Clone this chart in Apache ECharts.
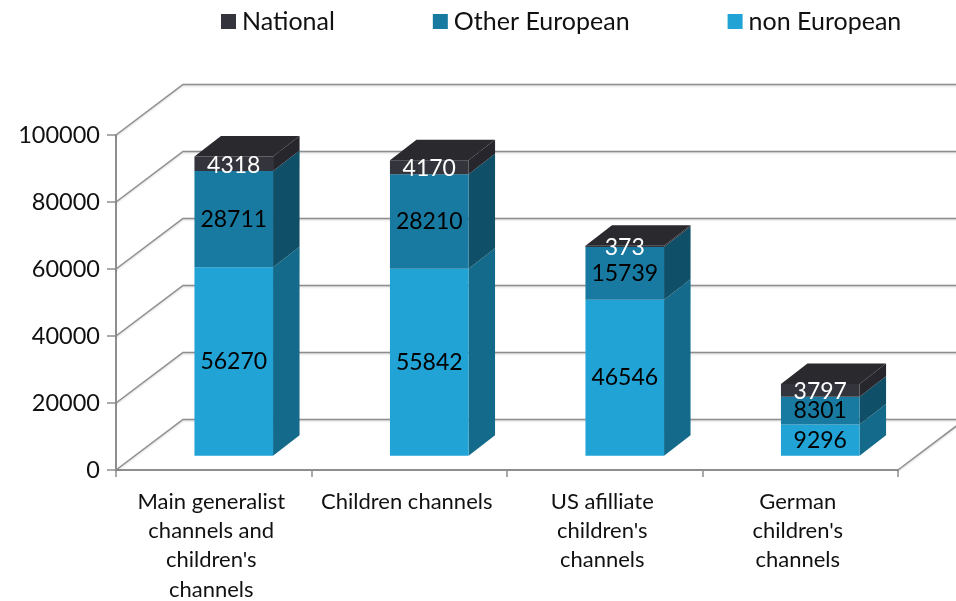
<!DOCTYPE html>
<html>
<head>
<meta charset="utf-8">
<style>html,body{margin:0;padding:0;background:#fff}#c{width:956px;height:601px}</style>
<script src="https://cdn.jsdelivr.net/npm/echarts@6/dist/echarts.min.js"></script>
</head>
<body>
<div id="c"></div>
<script>
var categories = ["Main generalist\nchannels and\nchildren's\nchannels", "Children channels", "US afilliate\nchildren's\nchannels", "German\nchildren's\nchannels"];
var nonEuropean = [56270, 55842, 46546, 9296];
var otherEuropean = [28711, 28210, 15739, 8301];
var national = [4318, 4170, 373, 3797];
var yTicks = [0, 20000, 40000, 60000, 80000, 100000];

var FONT = 'Lato, "Open Sans", sans-serif';
var WALL = [67, -50.5], BASE = [20, -14.3], DEPTH = [26.5, -20.5], BAR_W = 0.402;
var LINE = '#8e8e8e';

function poly(pts, fill, z) {
  return {type: 'polygon', z2: z || 1, shape: {points: pts}, style: {fill: fill, stroke: null}};
}
function wallRender(params, api) {
  var cs = params.coordSys;
  var p = api.coord([api.value(0), api.value(1)]);
  var left = cs.x, y = p[1];
  var right = cs.x + cs.width;
  var lineStyle = {stroke: LINE, lineWidth: 1.5, fill: null, shadowColor: 'rgba(0,0,0,0.18)', shadowBlur: 2, shadowOffsetY: 1};
  var children = [{
    type: 'polyline',
    shape: {points: [[left, y], [left + WALL[0], y + WALL[1]], [right + WALL[0], y + WALL[1]]]},
    style: lineStyle
  }];
  if (api.value(1) === 0) {
    children.push({
      type: 'polyline',
      shape: {points: [[right, y], [right + WALL[0], y + WALL[1]]]},
      style: lineStyle
    });
  }
  return {type: 'group', children: children};
}
function stackRender(front, side, top, labelColor, labelDy) {
  return function (params, api) {
    var idx = api.value(0);
    var lo = api.coord([idx, api.value(1)]);
    var hi = api.coord([idx, api.value(2)]);
    var w = api.size([1, 0])[0] * BAR_W;
    var x0 = lo[0] + BASE[0] - w / 2, x1 = x0 + w;
    var yb = lo[1] + BASE[1], yt = hi[1] + BASE[1];
    var dx = DEPTH[0], dy = DEPTH[1];
    var kids = [
      poly([[x1, yb], [x1 + dx, yb + dy], [x1 + dx, yt + dy], [x1, yt]], side),
      poly([[x0, yb], [x1, yb], [x1, yt], [x0, yt]], front)
    ];
    if (top) {
      kids.push(poly([[x0, yt], [x1, yt], [x1 + dx, yt + dy], [x0 + dx, yt + dy]], top));
    }
    kids.push({
      type: 'text', z2: 5,
      style: {
        text: String(api.value(2) - api.value(1)),
        x: (x0 + x1) / 2, y: (yb + yt) / 2 + labelDy,
        align: 'center', verticalAlign: 'middle',
        fill: labelColor, font: '23px ' + FONT
      }
    });
    return {type: 'group', children: kids};
  };
}
function stackData(lowerArrays, values) {
  return values.map(function (v, i) {
    var base = 0;
    lowerArrays.forEach(function (a) { base += a[i]; });
    return [i, base, base + v];
  });
}

var chart = echarts.init(document.getElementById('c'), null, {renderer: 'canvas'});
chart.setOption({
  animation: false,
  backgroundColor: '#fff',
  textStyle: {fontFamily: FONT},
  legend: {
    left: 216, top: 4, icon: 'rect', itemWidth: 15, itemHeight: 15, itemGap: 98,
    data: ['National', 'Other European', 'non European'],
    textStyle: {fontSize: 25, color: '#111', fontFamily: FONT, padding: [0, 0, 0, 1]},
    selectedMode: false
  },
  grid: {left: 116, right: 58, top: 135, bottom: 131, outerBoundsMode: 'none'},
  xAxis: {
    type: 'category', data: categories,
    axisLine: {lineStyle: {color: LINE, width: 2}},
    axisTick: {show: true, alignWithLabel: false, length: 7, lineStyle: {color: LINE, width: 1.5}},
    axisLabel: {fontSize: 22, lineHeight: 29.3, color: '#111', margin: 17, interval: 0, padding: [0, 5, 0, 0], fontFamily: FONT}
  },
  yAxis: {
    type: 'value', min: 0, max: 100000, interval: 20000,
    axisLine: {show: true, lineStyle: {color: LINE, width: 2}},
    axisTick: {show: true, length: 9, lineStyle: {color: LINE, width: 1.5}},
    axisLabel: {fontSize: 23.5, color: '#111', margin: 16, fontFamily: FONT, formatter: function (v) { return String(v); }},
    splitLine: {show: false}
  },
  series: [
    {
      type: 'custom', name: 'walls', silent: true, z: 1,
      data: yTicks.map(function (t) { return [0, t]; }),
      encode: {x: 0, y: 1}, renderItem: wallRender
    },
    {
      type: 'custom', name: 'non European', z: 2,
      itemStyle: {color: '#21A3D6'},
      data: stackData([], nonEuropean), encode: {x: 0, y: [1, 2]},
      renderItem: stackRender('#21A3D6', '#146A8B', null, '#000', 0)
    },
    {
      type: 'custom', name: 'Other European', z: 3,
      itemStyle: {color: '#187AA1'},
      data: stackData([nonEuropean], otherEuropean), encode: {x: 0, y: [1, 2]},
      renderItem: stackRender('#187AA1', '#0F5068', null, '#000', 0)
    },
    {
      type: 'custom', name: 'National', z: 4,
      itemStyle: {color: '#33343C'},
      data: stackData([nonEuropean, otherEuropean], national), encode: {x: 0, y: [1, 2]},
      renderItem: stackRender('#33343C', '#26262C', '#29292E', '#fff', 1.5)
    }
  ]
});
</script>
</body>
</html>
